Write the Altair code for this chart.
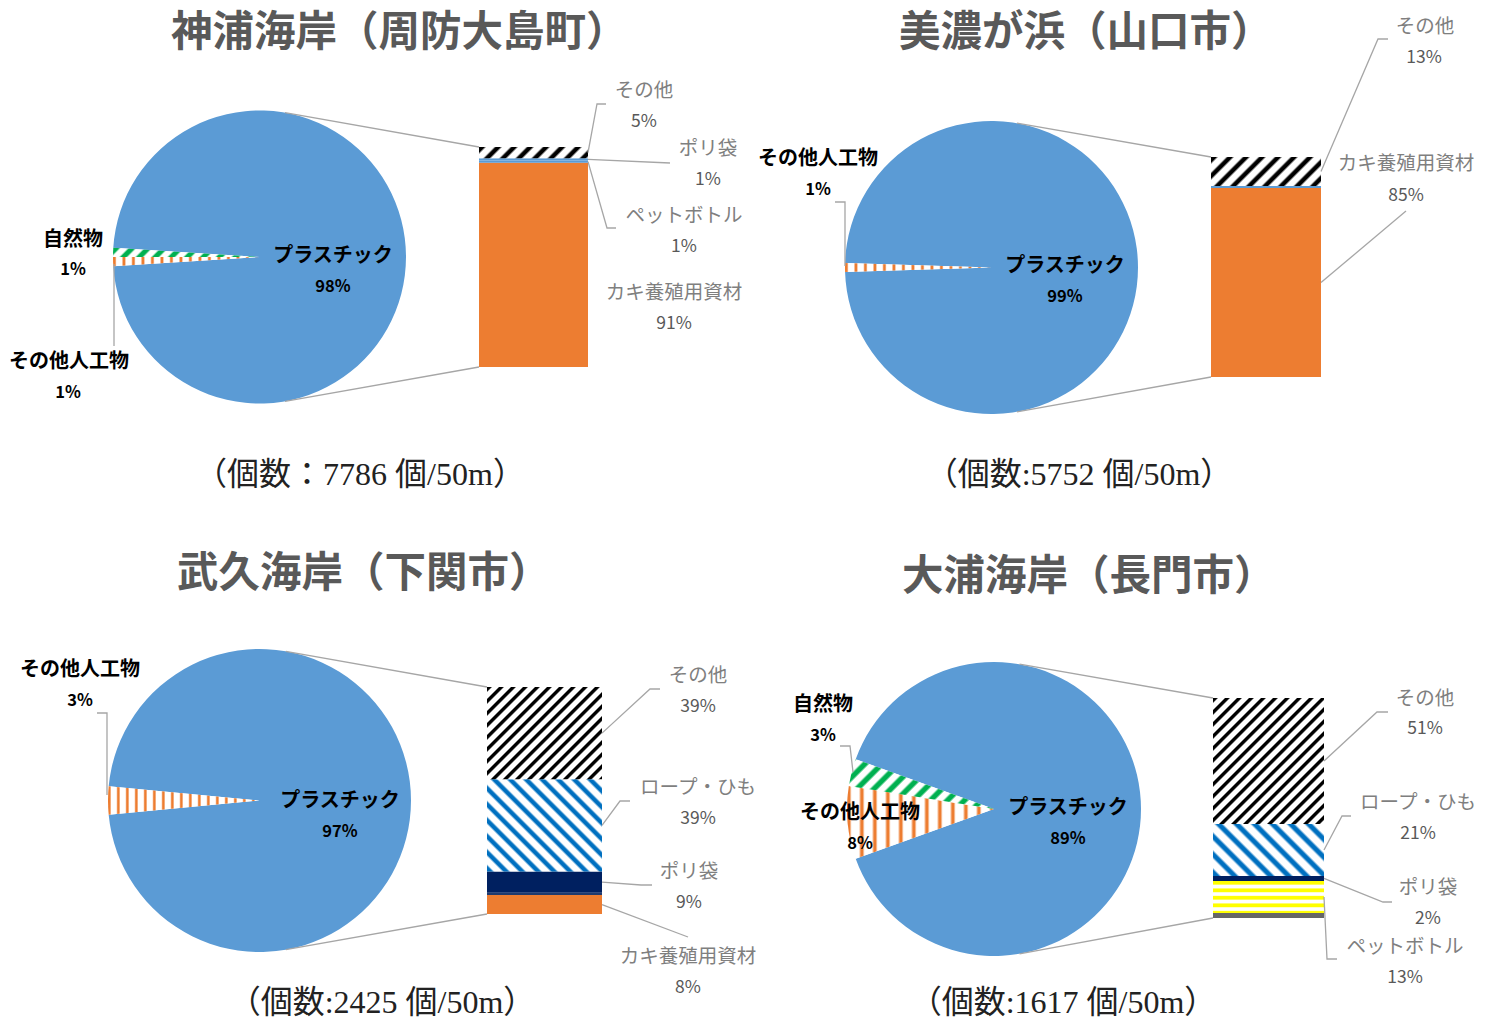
import math
import altair as alt
import pandas as pd

# ---------------- data ----------------
TITLES = ["神浦海岸（周防大島町）", "美濃が浜（山口市）", "武久海岸（下関市）", "大浦海岸（長門市）"]
COUNT_TEXT = ["（個数：7786 個/50m）", "（個数:5752 個/50m）", "（個数:2425 個/50m）", "（個数:1617 個/50m）"]

PIE_CATS = ["プラスチック", "その他人工物", "自然物"]
PIE_VALUES = [
    [98, 1, 1],
    [99, 1, 0],
    [97, 3, 0],
    [89, 8, 3],
]

# plastic breakdown (bar), listed bottom -> top
UNLABELED = "その他プラ"
BAR_CATS = [
    ["カキ養殖用資材", "ペットボトル", "ポリ袋", "その他"],
    ["カキ養殖用資材", UNLABELED, "その他"],
    ["カキ養殖用資材", UNLABELED, "ポリ袋", "ロープ・ひも", "その他"],
    [UNLABELED, "ペットボトル", "ポリ袋", "ロープ・ひも", "その他"],
]
BAR_VALUES = [
    [91, 1, 1, 5],
    [85, 1, 13],
    [8, 1, 9, 39, 39],
    [2, 13, 2, 21, 51],
]

# ---------------- styles ----------------
FONT = "Noto Sans CJK JP"
SERIF = "Liberation Serif, Noto Sans CJK JP"
BLUE = "#5B9BD5"
ORANGE = "#ED7D31"
GREEN = "#00B050"
NAVY = "#002060"
LINE = "#A6A6A6"

PIE_STYLE = [
    {"プラスチック": ("solid", BLUE), "その他人工物": ("vert", ORANGE, 9.5, 0.3), "自然物": ("up", GREEN, 16, 0.45)},
    {"プラスチック": ("solid", BLUE), "その他人工物": ("vert", ORANGE, 9.5, 0.3)},
    {"プラスチック": ("solid", BLUE), "その他人工物": ("vert", ORANGE, 9.0, 0.3)},
    {"プラスチック": ("solid", BLUE), "その他人工物": ("vert", ORANGE, 13, 0.28), "自然物": ("up", GREEN, 17, 0.45)},
]
BAR_STYLE = [
    {"カキ養殖用資材": ("solid", ORANGE), "ペットボトル": ("solid", BLUE), "ポリ袋": ("solid", BLUE),
     "その他": ("up", "#000000", 16, 0.4)},
    {"カキ養殖用資材": ("solid", ORANGE), UNLABELED: ("solid", BLUE), "その他": ("up", "#000000", 16, 0.4)},
    {"カキ養殖用資材": ("solid", ORANGE), UNLABELED: ("solid", "#1F3A6E"), "ポリ袋": ("solid", NAVY),
     "ロープ・ひも": ("down", "#0070C0", 16, 0.4), "その他": ("up", "#000000", 12, 0.4)},
    {UNLABELED: ("solid", "#666666"), "ペットボトル": ("horiz", "#FFFF00", 7.5, 0.5), "ポリ袋": ("solid", NAVY),
     "ロープ・ひも": ("down", "#0070C0", 18, 0.4), "その他": ("up", "#000000", 12, 0.4)},
]

# ---------------- layout (page pixel positions) ----------------
PANELS = [
    dict(origin=(8, 8), size=(740, 510), title_left=171, title_y=34, count_xy=(360, 475),
         pie=(259.5, 257, 146.5), bar=(479, 588, 147, 367),
         main_label=((333, 256), (333, 287)),
         side_labels={
             "自然物": ((73, 240), (73, 270), None),
             "その他人工物": ((69, 362), (68, 393), [(114, 346), (114, 264)]),
         },
         bar_labels={
             "その他": ((644, 91), (644, 122), [(606, 104), (597, 104)]),
             "ポリ袋": ((708, 149), (708, 180), [(670, 163)]),
             "ペットボトル": ((684, 216), (684, 247), [(616, 228), (607, 228)]),
             "カキ養殖用資材": ((674, 293), (674, 324), None),
         }),
    dict(origin=(748, 8), size=(735, 510), title_left=899, title_y=34, count_xy=(1079, 475),
         pie=(991.5, 267.5, 146.5), bar=(1211, 1321, 157, 377),
         main_label=((1065, 266), (1065, 297)),
         side_labels={"その他人工物": ((818, 159), (818, 190), [(835, 202), (845, 202), (845, 266)])},
         bar_labels={
             "その他": ((1425, 27), (1424, 58), [(1388, 39), (1378, 39)]),
             "カキ養殖用資材": ((1406, 164), (1406, 196), [(1406, 211)]),
         }),
    dict(origin=(8, 518), size=(740, 495), title_left=177, title_y=575, count_xy=(382, 1003),
         pie=(259.5, 800.5, 151.5), bar=(487, 602, 687, 914),
         main_label=((340, 801), (340, 832)),
         side_labels={"その他人工物": ((80, 670), (80, 701), [(97, 713), (107, 713), (107, 795)])},
         bar_labels={
             "その他": ((698, 676), (698, 707), [(660, 689), (650, 689)]),
             "ロープ・ひも": ((698, 788), (698, 819), [(630, 801), (620, 801)]),
             "ポリ袋": ((689, 872), (689, 903), [(652, 885), (641, 885)]),
             "カキ養殖用資材": ((688, 957), (688, 988), [(688, 937)]),
         }),
    dict(origin=(748, 518), size=(735, 495), title_left=902, title_y=578, count_xy=(1063, 1003),
         pie=(994, 809, 147), bar=(1213, 1324, 698, 918),
         main_label=((1068, 808), (1068, 839)),
         side_labels={
             "自然物": ((823, 705), (823, 736), [(840, 746), (850, 746), (853, 772)]),
             "その他人工物": ((860, 813), (860, 844), None),
         },
         bar_labels={
             "その他": ((1425, 699), (1425, 729), [(1388, 712), (1377, 712)]),
             "ロープ・ひも": ((1418, 803), (1418, 834), [(1351, 816), (1342, 816)]),
             "ポリ袋": ((1428, 888), (1428, 919), [(1392, 902), (1383, 902)]),
             "ペットボトル": ((1405, 947), (1405, 978), [(1337, 959), (1327, 959)]),
         }),
]


# ---------------- helpers ----------------
def stripe_stops(ca, cb, n, frac, soft=0.08):
    stops = []
    p = 1.0 / n
    e = soft * p
    i = 0
    while i * p < 1.0:
        s = i * p
        for off, col in [(s + e, ca), (s + frac * p - e, ca), (s + frac * p + e, cb), (s + p - e, cb)]:
            if off <= 1.0:
                stops.append({"offset": round(off, 5), "color": col})
        i += 1
    return stops


def make_fill(style, w, h):
    kind = style[0]
    if kind == "solid":
        return style[1]
    color, period, frac = style[1], style[2], style[3]
    w = max(w, 1.0)
    h = max(h, 1.0)
    if kind == "vert":
        n = w / period
        g = dict(x1=0, y1=0, x2=1, y2=0)
    elif kind == "horiz":
        n = h / period
        g = dict(x1=0, y1=0, x2=0, y2=1)
    else:
        k = (w + h) / (w * w + h * h)
        n = (w + h) / period
        if kind == "up":
            g = dict(x1=0, y1=0, x2=round(k * w, 5), y2=round(k * h, 5))
        else:
            g = dict(x1=0, y1=1, x2=round(k * w, 5), y2=round(1 - k * h, 5))
    n = max(n, 1.0)
    out = {"gradient": "linear", "stops": stripe_stops(color, "#FFFFFF", n, frac)}
    out.update(g)
    return out


def wedge_bbox(r, a0, a1):
    xs, ys = [0.0], [0.0]
    N = 240
    for i in range(N + 1):
        a = a0 + (a1 - a0) * i / N
        xs.append(r * math.sin(a))
        ys.append(-r * math.cos(a))
    return max(xs) - min(xs), max(ys) - min(ys)


def text_layer(rows, **kw):
    df = pd.DataFrame(rows, columns=["x", "y", "t"])
    return alt.Chart(df).mark_text(**kw).encode(
        x=alt.X("x:Q", scale=None, axis=None),
        y=alt.Y("y:Q", scale=None, axis=None),
        text="t:N",
    )


def build_panel(i):
    L = PANELS[i]
    ox, oy = L["origin"]
    W, H = L["size"]

    def loc(pt):
        return (pt[0] - ox, pt[1] - oy)

    layers = []

    # ---- pie ----
    pvals = PIE_VALUES[i]
    prow = [dict(c=c, v=v, o=k) for k, (c, v) in enumerate(zip(PIE_CATS, pvals)) if v > 0]
    pdf = pd.DataFrame(prow)
    ptotal = float(sum(pvals))
    start = math.pi / 2 - math.pi * pvals[0] / ptotal
    cx, cy, r = L["pie"]
    lcx, lcy = loc((cx, cy))
    theta_scale = alt.Scale(domain=[0, ptotal], range=[start, start + 2 * math.pi])
    pie_base = alt.Chart(pdf).transform_stack(
        stack="v", groupby=[], as_=["t0", "t1"], sort=[alt.SortField("o", order="ascending")]
    )
    cum = 0.0
    for row in prow:
        a0 = start + 2 * math.pi * cum / ptotal
        a1 = start + 2 * math.pi * (cum + row["v"]) / ptotal
        cum += row["v"]
        bw, bh = wedge_bbox(r, a0, a1)
        fill = make_fill(PIE_STYLE[i][row["c"]], bw, bh)
        layers.append(
            pie_base.transform_filter(alt.datum.c == row["c"])
            .mark_arc(outerRadius=r, fill=fill)
            .encode(
                theta=alt.Theta("t0:Q", stack=None, scale=theta_scale),
                theta2="t1:Q",
                x=alt.value(lcx),
                y=alt.value(lcy),
            )
        )

    # ---- bar ----
    bcats, bvals = BAR_CATS[i], BAR_VALUES[i]
    btotal = float(sum(bvals))
    bx0, bx1, btop, bbot = L["bar"]
    lbx0, lbtop = loc((bx0, btop))
    lbx1, lbbot = loc((bx1, bbot))
    bdf = pd.DataFrame([dict(c=c, v=v, o=k) for k, (c, v) in enumerate(zip(bcats, bvals))])
    yscale = alt.Scale(domain=[0, btotal], range=[lbbot, lbtop], nice=False, zero=True)
    bar_base = alt.Chart(bdf).transform_stack(
        stack="v", groupby=[], as_=["y0", "y1"], sort=[alt.SortField("o", order="ascending")]
    )
    seg_mid = {}
    cum = 0.0
    for c, v in zip(bcats, bvals):
        hpx = v / btotal * (bbot - btop)
        seg_mid[c] = bbot - (cum + v / 2.0) / btotal * (bbot - btop)
        cum += v
        fill = make_fill(BAR_STYLE[i][c], bx1 - bx0, hpx)
        layers.append(
            bar_base.transform_filter(alt.datum.c == c)
            .mark_rect(fill=fill)
            .encode(
                x=alt.value(lbx0),
                x2=alt.value(lbx1),
                y=alt.Y("y0:Q", stack=None, scale=yscale, axis=None),
                y2="y1:Q",
            )
        )

    # ---- connector + leader lines ----
    lines = []
    lid = 0

    def add_path(pts):
        nonlocal lid
        for k, p in enumerate(pts):
            q = loc(p)
            lines.append(dict(id=lid, o=k, x=q[0], y=q[1]))
        lid += 1

    for ang, (bx, by) in [(math.radians(10), (bx0, btop)), (math.radians(170), (bx0, bbot))]:
        add_path([(cx + r * math.sin(ang), cy - r * math.cos(ang)), (bx, by)])
    for c, (p_name, p_pct, path) in L["side_labels"].items():
        if path:
            add_path(path)
    for c, (p_name, p_pct, path) in L["bar_labels"].items():
        if path:
            add_path(list(path) + [(bx1, seg_mid[c])])
    ldf = pd.DataFrame(lines)
    layers.append(
        alt.Chart(ldf).mark_line(color=LINE, strokeWidth=1.3).encode(
            x=alt.X("x:Q", scale=None, axis=None),
            y=alt.Y("y:Q", scale=None, axis=None),
            detail="id:N",
            order="o:Q",
        )
    )

    # ---- texts ----
    name_rows, pct_rows = [], []
    (mn, mp) = L["main_label"]
    name_rows.append(loc(mn) + (PIE_CATS[0],))
    pct_rows.append(loc(mp) + (f"{pvals[0]}%",))
    for c, (p_name, p_pct, path) in L["side_labels"].items():
        v = pvals[PIE_CATS.index(c)]
        name_rows.append(loc(p_name) + (c,))
        pct_rows.append(loc(p_pct) + (f"{v}%",))
    layers.append(text_layer(name_rows, font=FONT, fontSize=20, fontWeight="bold", color="#000000",
                             align="center", baseline="middle"))
    layers.append(text_layer(pct_rows, font=FONT, fontSize=16.5, fontWeight="bold", color="#000000",
                             align="center", baseline="middle"))

    bn_rows, bp_rows = [], []
    for c, (p_name, p_pct, path) in L["bar_labels"].items():
        v = bvals[bcats.index(c)]
        bn_rows.append(loc(p_name) + (c,))
        bp_rows.append(loc(p_pct) + (f"{v}%",))
    layers.append(text_layer(bn_rows, font=FONT, fontSize=19.5, color="#7F7F7F",
                             align="center", baseline="middle"))
    layers.append(text_layer(bp_rows, font=FONT, fontSize=17.5, color="#595959",
                             align="center", baseline="middle"))

    layers.append(text_layer([loc((L["title_left"], L["title_y"])) + (TITLES[i],)],
                             font=FONT, fontSize=41.5, fontWeight="bold", color="#595959",
                             align="left", baseline="middle"))
    layers.append(text_layer([loc(L["count_xy"]) + (COUNT_TEXT[i],)],
                             font=SERIF, fontSize=32, color="#222222",
                             align="center", baseline="middle"))

    return alt.layer(*layers).resolve_scale(x="independent", y="independent").properties(
        width=W, height=H
    )


panels = [build_panel(i) for i in range(4)]
chart = (
    alt.concat(*panels, columns=2, spacing=0, bounds="flush")
    .properties(padding=0, background="white")
    .configure_view(stroke=None)
)

chart.save("out.html", embed_options={"renderer": "svg", "actions": False})
